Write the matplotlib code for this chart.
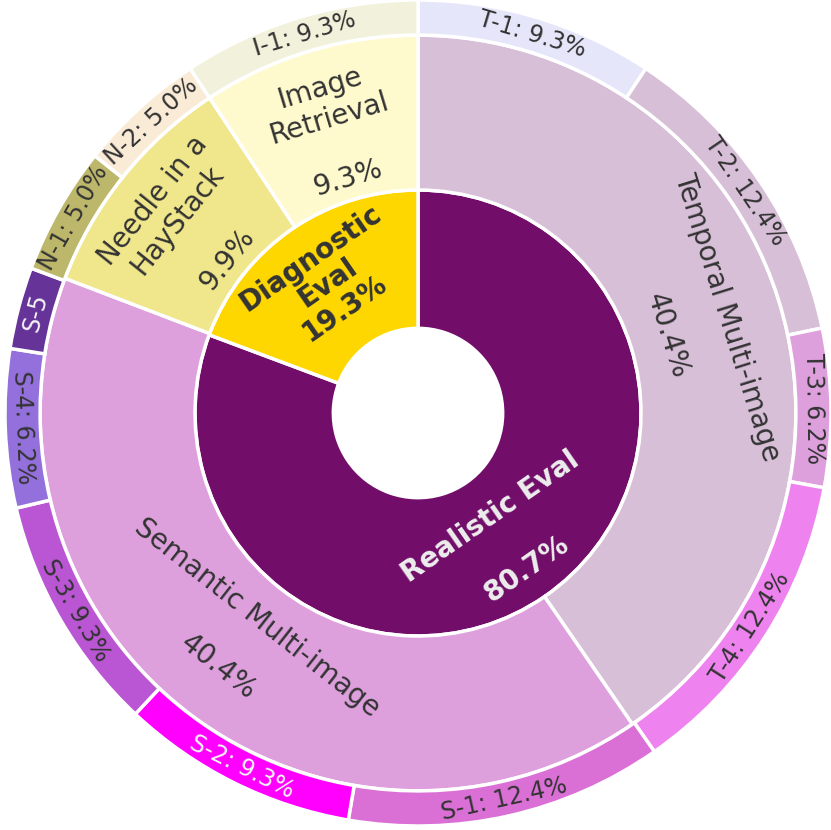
import numpy as np
import matplotlib.pyplot as plt

# inner ring
inner_labels = ['Realistic Eval\n\n80.7%', 'Diagnostic\nEval\n19.3%']
inner_vals = [80.7, 19.3]
inner_colors = ['#720e6a', '#ffd700']
inner_text = ['#eeeeee', '#333333']

# middle ring
mid_labels = ['Temporal Multi-image\n\n40.4%', 'Semantic Multi-image\n\n40.4%',
              'Needle in a\nHayStack\n\n9.9%', 'Image\nRetrieval\n\n9.3%']
mid_vals = [40.4, 40.4, 9.9, 9.3]
mid_colors = ['#d8bfd8', '#dda0dd', '#f0e68c', '#fffacd']

# outer ring
outer_labels = ['T-1: 9.3%', 'T-2: 12.4%', 'T-3: 6.2%', 'T-4: 12.4%',
                'S-1: 12.4%', 'S-2: 9.3%', 'S-3: 9.3%', 'S-4: 6.2%', 'S-5',
                'N-1: 5.0%', 'N-2: 5.0%', 'I-1: 9.3%']
outer_vals = [9.3, 12.4, 6.2, 12.4, 12.4, 9.3, 9.3, 6.2, 3.2, 5.0, 5.0, 9.3]
outer_colors = ['#e6e6fa', '#d8bfd8', '#dda0dd', '#ee82ee',
                '#da70d6', '#ff00ff', '#ba55d3', '#9370db', '#663399',
                '#bdb76b', '#faebd7', '#f2f2dc']
outer_text = ['#333333'] * 5 + ['#f5f5f5', '#333333', '#333333', '#f5f5f5'] + ['#333333'] * 3

r_hole, r_in, r_mid, r_out = 0.205, 0.54, 0.915, 1.0

fig = plt.figure(figsize=(8.31, 8.30), dpi=100)
ax = fig.add_axes([0, 0, 1, 1])

def ring(vals, colors, r0, r1):
    wedges, _ = ax.pie(vals, colors=colors, radius=r1, startangle=90, counterclock=False,
                       normalize=True,
                       wedgeprops=dict(width=r1 - r0, edgecolor='white', linewidth=2.5))
    return wedges

def put_labels(wedges, labels, r, size, colors, weight='normal'):
    for w, lab, c in zip(wedges, labels, colors):
        mid = (w.theta1 + w.theta2) / 2
        rot = mid - 90
        while rot > 90:
            rot -= 180
        while rot <= -90:
            rot += 180
        x = r * np.cos(np.radians(mid))
        y = r * np.sin(np.radians(mid))
        ls = 1.1 if lab.startswith('Diagnostic') else 1.15
        ax.text(x, y, lab, rotation=rot, rotation_mode='anchor', ha='center', va='center',
                multialignment='center', fontsize=size, color=c, weight=weight,
                linespacing=ls)

w_in = ring(inner_vals, inner_colors, r_hole, r_in)
w_mid = ring(mid_vals, mid_colors, r_in, r_mid)
w_out = ring(outer_vals, outer_colors, r_mid, r_out)

put_labels(w_in, inner_labels, (r_hole + r_in) / 2 + 0.01, 20, inner_text, weight='bold')
put_labels(w_mid, mid_labels, (r_in + r_mid) / 2 - 0.02, 20, ['#333333'] * 4)
put_labels(w_out, outer_labels, (r_mid + r_out) / 2, 17, outer_text)

ax.set_aspect('equal')
ax.set_xlim(-418 / 413, 413 / 413)
ax.set_ylim(-417 / 413, 413 / 413)
ax.axis('off')

plt.savefig('out.png', dpi=100)
